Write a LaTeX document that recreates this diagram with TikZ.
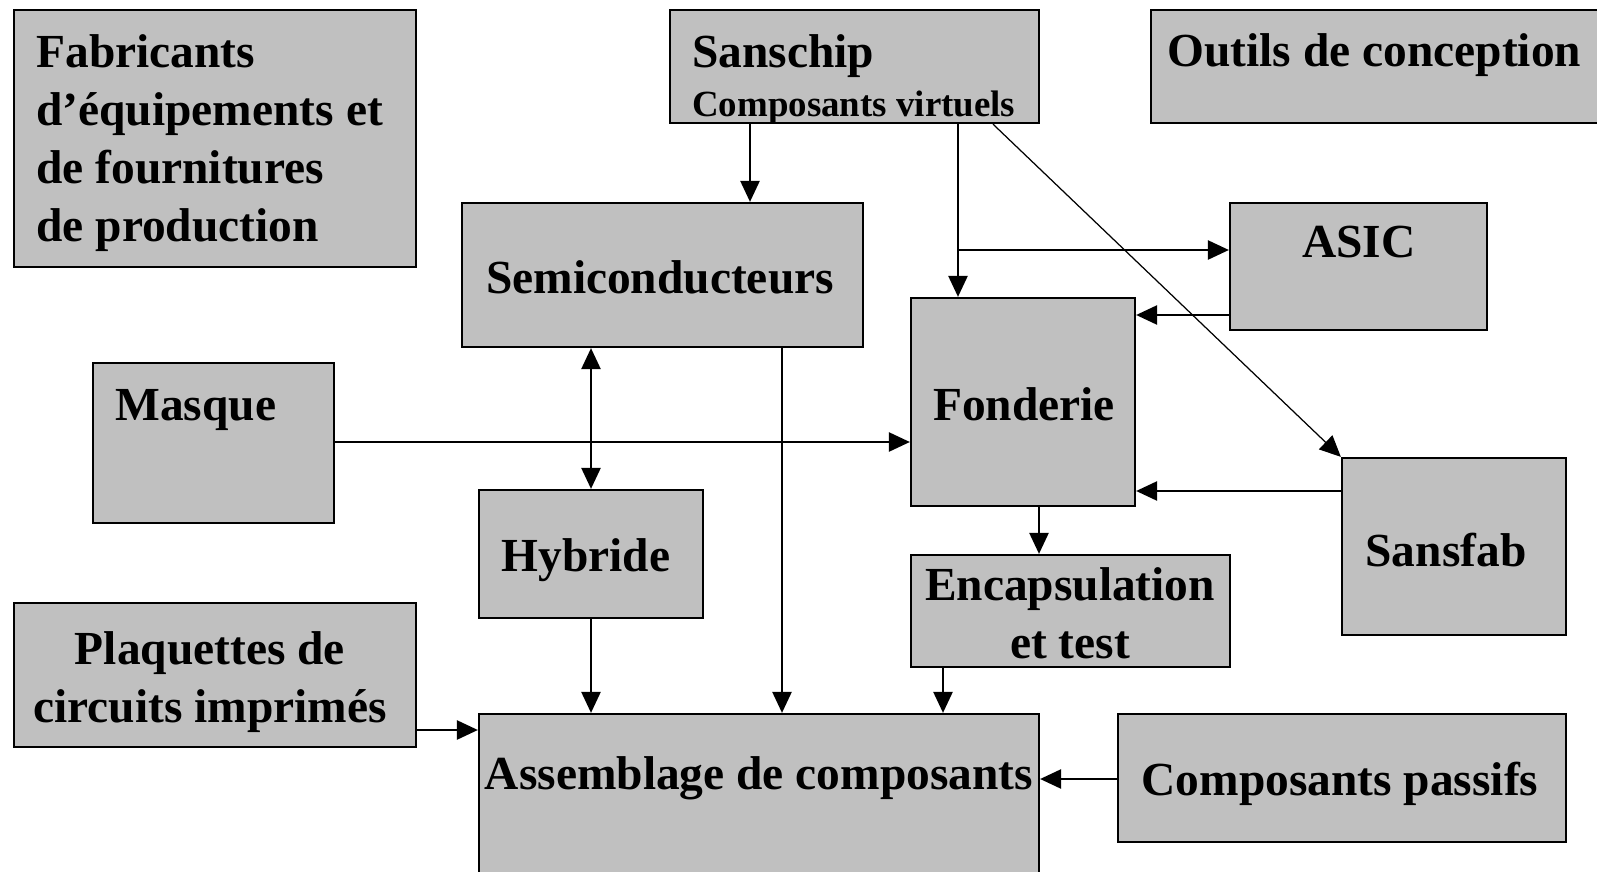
\documentclass[tikz,border=0pt]{standalone}
\usepackage{fontspec}
\setmainfont{Liberation Serif}
\usetikzlibrary{arrows.meta, fit}
\definecolor{boxgray}{RGB}{192,192,192}

\begin{document}
\begin{tikzpicture}[x=0.02cm, y=-0.02cm,
                    entity/.style={draw,fill=boxgray,line width=1.3pt,inner sep=0pt},
                    label text/.style={inner sep=0pt,align=left,font=\bfseries\fontsize{27}{33}\selectfont},
                    centred text/.style={label text,align=center,anchor=base},
                    flow arrow/.style={-{Triangle[length=12pt,width=11pt]}, line width=1pt},
                   ]
  \useasboundingbox (0,0) rectangle (1597,872);

  % boxes
  \node[entity, fit={(14,10) (416,267)}] (fabricants) {};
  \node[entity, fit={(670,10) (1039,123)}] (sanschip) {};
  \node[entity, fit={(1151,10) (1610,123)}] (outils) {};
  \node[entity, fit={(462,203) (863,347)}] (semi) {};
  \node[entity, fit={(1230,203) (1487,330)}] (asic) {};
  \node[entity, fit={(911,298) (1135,506)}] (fonderie) {};
  \node[entity, fit={(93,363) (334,523)}] (masque) {};
  \node[entity, fit={(479,490) (703,618)}] (hybride) {};
  \node[entity, fit={(911,555) (1230,667)}] (encaps) {};
  \node[entity, fit={(1342,458) (1566,635)}] (sansfab) {};
  \node[entity, fit={(14,603) (416,747)}] (plaquettes) {};
  \node[entity, fit={(479,714) (1039,890)}] (assemblage) {};
  \node[entity, fit={(1118,714) (1566,842)}] (passifs) {};

  % texts (base anchor = baseline of the last line)
  \node[label text, anchor=base west] (fabricants-text) at (36,241) {Fabricants\\d’équipements et\\de fournitures\\de production};
  \node[label text, anchor=base west] (sanschip-text) at (692,67) {Sanschip};
  \node[label text, anchor=base west, font=\bfseries\fontsize{21}{25}\selectfont] (virtuels-text) at (692,116) {Composants virtuels};
  \node[label text, anchor=base west] (outils-text) at (1167,66) {Outils de conception};
  \node[centred text] (semi-text) at (660,293) {Semiconducteurs};
  \node[centred text] (asic-text) at (1359,257) {ASIC};
  \node[centred text] (fonderie-text) at (1024,420) {Fonderie};
  \node[label text, anchor=base west] (masque-text) at (115,420) {Masque};
  \node[centred text] (hybride-text) at (586,571) {Hybride};
  \node[centred text] (encaps-text) at (1070,658) {Encapsulation\\et test};
  \node[centred text] (sansfab-text) at (1446,566) {Sansfab};
  \node[centred text] (plaquettes-text) at (210,722) {Plaquettes de\\circuits imprimés};
  \node[centred text] (assemblage-text) at (759,789) {Assemblage de composants};
  \node[centred text] (passifs-text) at (1340,795) {Composants passifs};

  % columns and rows of the connectors
  \coordinate (col-semi) at (750,0);
  \coordinate (col-fond) at (958,0);
  \coordinate (col-diag) at (993,0);
  \coordinate (col-hyb) at (591,0);
  \coordinate (col-down) at (782,0);
  \coordinate (col-fonde) at (1039,0);
  \coordinate (col-enc) at (943,0);
  \coordinate (row-asic) at (0,250);
  \coordinate (row-asicb) at (0,315);
  \coordinate (row-sansfab) at (0,491);
  \coordinate (row-masque) at (0,442);
  \coordinate (row-plaq) at (0,730);
  \coordinate (row-passifs) at (0,779);

  \draw[flow arrow] (col-semi |- sanschip.south) -- (col-semi |- semi.north);
  \draw[flow arrow] (col-fond |- sanschip.south) -- (col-fond |- fonderie.north);
  \draw[flow arrow] (col-fond |- row-asic) -- (asic.west |- row-asic);
  \draw[-{Triangle[length=12pt,width=11pt]}, line width=0.7pt] (col-diag |- sanschip.south) -- (sansfab.north west);
  \draw[flow arrow] (asic.west |- row-asicb) -- (fonderie.east |- row-asicb);
  \draw[flow arrow] (sansfab.west |- row-sansfab) -- (fonderie.east |- row-sansfab);
  \draw[flow arrow] (masque.east |- row-masque) -- (fonderie.west |- row-masque);
  \draw[flow arrow, {Triangle[length=12pt,width=11pt]}-{Triangle[length=12pt,width=11pt]}] (col-hyb |- semi.south) -- (col-hyb |- hybride.north);
  \draw[flow arrow] (col-down |- semi.south) -- (col-down |- assemblage.north);
  \draw[flow arrow] (col-hyb |- hybride.south) -- (col-hyb |- assemblage.north);
  \draw[flow arrow] (col-fonde |- fonderie.south) -- (col-fonde |- encaps.north);
  \draw[flow arrow] (col-enc |- encaps.south) -- (col-enc |- assemblage.north);
  \draw[flow arrow] (plaquettes.east |- row-plaq) -- (assemblage.west |- row-plaq);
  \draw[flow arrow] (passifs.west |- row-passifs) -- (assemblage.east |- row-passifs);
\end{tikzpicture}
\end{document}
